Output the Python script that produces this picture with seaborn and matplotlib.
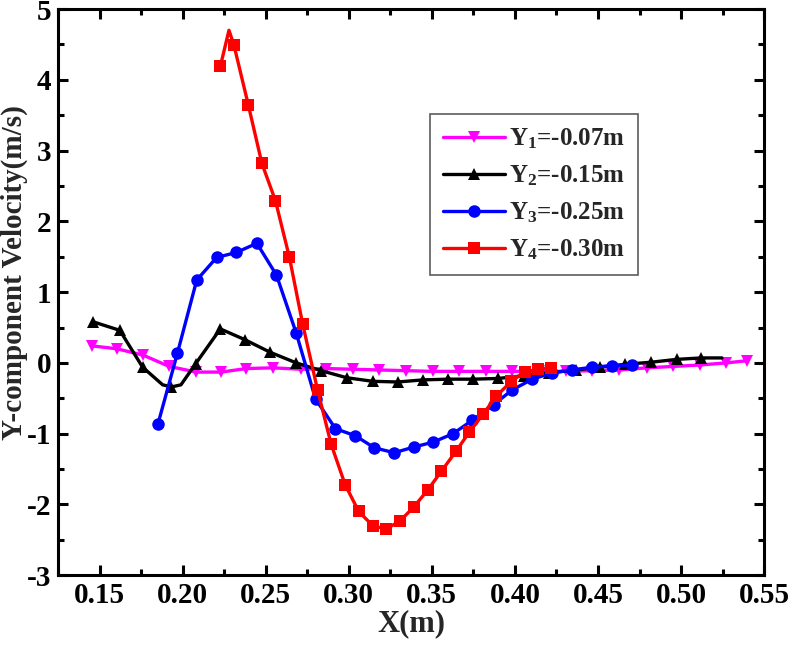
import numpy as np
import matplotlib
matplotlib.use("Agg")
import matplotlib.pyplot as plt
import seaborn as sns
from matplotlib.ticker import MultipleLocator

# ---------------- data ----------------
x_y1 = [0.1454, 0.1603, 0.1762, 0.1919, 0.2083, 0.2233, 0.2383, 0.2543, 0.2714, 0.2864,
        0.3024, 0.3184, 0.3344, 0.3504, 0.3664, 0.3825, 0.3985, 0.4145, 0.4305, 0.4465,
        0.4629, 0.4792, 0.4952, 0.5112, 0.5272, 0.5396]
v_y1 = [0.24, 0.20, 0.11, -0.05, -0.13, -0.13, -0.08, -0.07, -0.09, -0.08,
        -0.09, -0.10, -0.11, -0.12, -0.12, -0.12, -0.12, -0.12, -0.12, -0.11,
        -0.10, -0.07, -0.05, -0.03, 0.00, 0.03]

x_y2 = [0.1462, 0.1622, 0.1759, 0.1880, 0.1933, 0.1990, 0.2079, 0.2227, 0.2373, 0.2527,
        0.2684, 0.2834, 0.2988, 0.3144, 0.3294, 0.3448, 0.3600, 0.3750, 0.3899, 0.4055,
        0.4205, 0.4365, 0.4515, 0.4665, 0.4822, 0.4975, 0.5122, 0.5246]
v_y2 = [0.58, 0.46, -0.06, -0.31, -0.34, -0.31, -0.01, 0.48, 0.33, 0.15,
        0.00, -0.11, -0.21, -0.26, -0.27, -0.24, -0.23, -0.23, -0.22, -0.18,
        -0.14, -0.10, -0.06, -0.02, 0.01, 0.05, 0.07, 0.07]
mk_y2 = [0, 1, 2, 4, 6, 7, 8, 9, 10, 11, 12, 13, 14, 15, 16, 17, 18, 19, 20, 21, 22, 23, 24, 25, 26]

x_y3 = [0.1852, 0.1969, 0.2085, 0.2205, 0.2323, 0.2447, 0.2565, 0.2684, 0.2800, 0.2920,
        0.3040, 0.3154, 0.3274, 0.3390, 0.3508, 0.3628, 0.3744, 0.3872, 0.3985, 0.4105,
        0.4225, 0.4345, 0.4465, 0.4582, 0.4702]
v_y3 = [-0.86, 0.14, 1.17, 1.49, 1.56, 1.69, 1.24, 0.42, -0.51, -0.93,
        -1.03, -1.20, -1.27, -1.19, -1.12, -1.00, -0.81, -0.59, -0.38, -0.23,
        -0.14, -0.10, -0.06, -0.04, -0.03]

x_y4 = [0.2227, 0.2279, 0.2309, 0.2395, 0.2477, 0.2559, 0.2643, 0.2723, 0.2813, 0.2894,
        0.2978, 0.3060, 0.3144, 0.3224, 0.3310, 0.3390, 0.3474, 0.3558, 0.3645, 0.3725,
        0.3810, 0.3888, 0.3979, 0.4059, 0.4139, 0.4219]
v_y4 = [4.19, 4.70, 4.49, 3.65, 2.82, 2.29, 1.49, 0.545, -0.39, -1.15,
        -1.72, -2.10, -2.30, -2.35, -2.23, -2.04, -1.80, -1.53, -1.25, -0.98,
        -0.72, -0.47, -0.26, -0.13, -0.09, -0.07]
mk_y4 = [0] + list(range(2, 26))

labels = ["Y$_1$=-0.07m", "Y$_2$=-0.15m", "Y$_3$=-0.25m", "Y$_4$=-0.30m"]
x_ticks = [0.15, 0.20, 0.25, 0.30, 0.35, 0.40, 0.45, 0.50, 0.55]
y_ticks = [-3, -2, -1, 0, 1, 2, 3, 4, 5]

# ---------------- style ----------------
sns.set_style("ticks")
plt.rcParams["font.family"] = ["Liberation Serif", "DejaVu Serif"]
plt.rcParams["font.weight"] = "bold"
plt.rcParams["mathtext.fontset"] = "custom"
plt.rcParams["mathtext.rm"] = "Liberation Serif:bold"
plt.rcParams["mathtext.bf"] = "Liberation Serif:bold"
plt.rcParams["mathtext.it"] = "Liberation Serif:bold"
plt.rcParams["mathtext.default"] = "bf"

fig = plt.figure(figsize=(7.89, 6.47), dpi=100)
ax = fig.add_axes([0.0735, 0.111, 0.895, 0.875])

lw = 2.4
ms = 9
sns.lineplot(x=x_y1, y=v_y1, ax=ax, color="#FF00FF", marker="v", markersize=ms,
             markeredgewidth=0, linewidth=lw, sort=False, estimator=None, label=labels[0])
sns.lineplot(x=x_y2, y=v_y2, ax=ax, color="black", marker="^", markersize=ms,
             markeredgewidth=0, linewidth=lw, sort=False, estimator=None, label=labels[1],
             markevery=mk_y2)
sns.lineplot(x=x_y3, y=v_y3, ax=ax, color="#0000FF", marker="o", markersize=ms,
             markeredgewidth=0, linewidth=lw, sort=False, estimator=None, label=labels[2])
sns.lineplot(x=x_y4, y=v_y4, ax=ax, color="#FF0000", marker="s", markersize=ms - 1,
             markeredgewidth=0, linewidth=lw, sort=False, estimator=None, label=labels[3],
             markevery=mk_y4)

ax.set_xlim(0.125, 0.55)
ax.set_ylim(-3, 5)
ax.set_xticks(x_ticks)
ax.set_xticklabels([f"{t:.2f}" for t in x_ticks])
ax.set_yticks(y_ticks)
ax.set_yticklabels([str(t) for t in y_ticks])
ax.xaxis.set_minor_locator(MultipleLocator(0.025))
ax.yaxis.set_minor_locator(MultipleLocator(0.5))

for s in ax.spines.values():
    s.set_visible(True)
    s.set_linewidth(2.2)
    s.set_color("black")

ax.tick_params(which="both", direction="in", top=True, right=True, width=2.2, colors="black")
ax.tick_params(which="major", length=7, labelsize=21, pad=5)
ax.tick_params(which="minor", length=4)
for lab in ax.get_xticklabels() + ax.get_yticklabels():
    lab.set_fontweight("bold")

ax.set_xlabel("X(m)", fontsize=22, fontweight="bold", labelpad=0)
ax.set_ylabel("Y-component Velocity(m/s)", fontsize=21, fontweight="bold", va="center")
ax.yaxis.set_label_coords(-0.062, 0.535)

leg = ax.legend(loc="upper left", bbox_to_anchor=(0.527, 0.815), fontsize=18,
                frameon=True, fancybox=False, edgecolor="#333333", handlelength=2.5,
                borderpad=0.5, labelspacing=0.5, handletextpad=0.15, borderaxespad=0)
leg.get_frame().set_linewidth(1.2)
for t in leg.get_texts():
    t.set_fontweight("bold")

fig.savefig("out.png", dpi=100)
